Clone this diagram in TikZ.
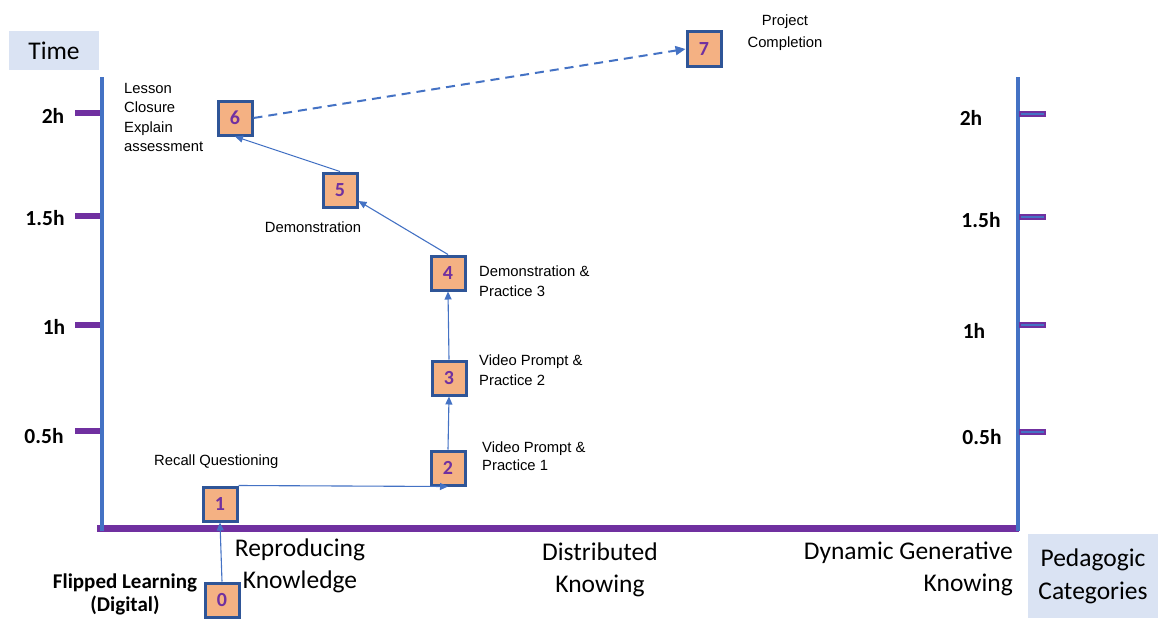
\documentclass[tikz,border=0pt]{standalone}
\usepackage{fontspec}
\setmainfont{Liberation Sans}
\newfontfamily\calib{Carlito}
\usetikzlibrary{arrows.meta}

\definecolor{axisblue}{HTML}{4472C4}
\definecolor{axispurple}{HTML}{7030A0}
\definecolor{boxedge}{HTML}{2F5597}
\definecolor{boxfill}{HTML}{F4B183}
\definecolor{tagfill}{HTML}{DAE3F3}

\tikzset{
  stage/.style={draw=boxedge, line width=3pt, fill=boxfill, minimum size=34pt,
    inner sep=0pt, font=\calib\bfseries\fontsize{20}{20}\selectfont, text=axispurple},
  link/.style={draw=axisblue, line width=1.1pt, -{Triangle[length=8pt,width=7pt]}},
  plink/.style={draw=axisblue, line width=2pt, dash pattern=on 9pt off 6pt,
    -{Triangle[length=10pt,width=9pt]}},
  note/.style={font=\fontsize{14.8}{20}\selectfont, inner sep=0pt},
  hour/.style={font=\calib\bfseries\fontsize{21.5}{21.5}\selectfont, inner sep=0pt},
  category/.style={font=\calib\fontsize{25.5}{32}\selectfont, inner sep=0pt},
  tag/.style={fill=tagfill, font=\calib\fontsize{25.5}{33}\selectfont, inner sep=0pt},
  vaxis/.style={draw=axisblue, line width=4pt},
  haxis/.style={draw=axispurple, line width=7pt},
  ltick/.style={draw=axispurple, line width=5.5pt},
  rtick/.style={draw=axispurple, line width=6.5pt},
}

\begin{document}
\begin{tikzpicture}[x=1pt,y=-1pt]
\useasboundingbox (0,0) rectangle (1158,618);

% axes
\draw[haxis] (97,528) -- (1019,528);
\draw[vaxis] (102,77) -- (102,531);
\draw[vaxis] (1018,77) -- (1018,531);

% left time ticks
\foreach \yy in {113,216,325,431}
  \draw[ltick] (75,\yy) -- (100,\yy);
% right time ticks
\foreach \yy in {114,217,325,432}{
  \draw[rtick] (1019,\yy) -- (1046,\yy);
  \draw[axisblue, line width=1.2pt] (1021,\yy) -- (1044,\yy);
}

% hour labels
\node[hour] (l2)  at (53,116) {2h};
\node[hour] (l15) at (45,218) {1.5h};
\node[hour] (l1)  at (54,327) {1h};
\node[hour] (l05) at (44,436) {0.5h};
\node[hour] (r2)  at (971,118) {2h};
\node[hour] (r15) at (981,220) {1.5h};
\node[hour] (r1)  at (974,331) {1h};
\node[hour] (r05) at (982,437) {0.5h};

% boxed tags
\node[tag, minimum width=90pt, minimum height=39pt] (time) at (54,50.5) {Time};
\node[tag, minimum width=131pt, minimum height=84pt, align=center] (ped) at (1093,576) {Pedagogic\\Categories};

% stages
\node[stage] (n0) at (222,600) {0};
\node[stage] (n1) at (220,504) {1};
\node[stage] (n2) at (448,468) {2};
\node[stage] (n3) at (449,378) {3};
\node[stage] (n4) at (448,273) {4};
\node[stage] (n5) at (340,190) {5};
\node[stage] (n6) at (235,118) {6};
\node[stage] (n7) at (704,49) {7};

% connectors
\draw[link] (n0.north) -- (n1.south);
\draw[link] (n1.north east) -- (n2.south);
\draw[link] (n2.north) -- (n3.south);
\draw[link] (n3.north) -- (n4.south);
\draw[link] (n4.north) -- (n5);
\draw[link] (n5.north) -- (n6.south);
\draw[plink] (n6.east) -- (n7.west);

% stage notes
\node[note, align=center, font=\fontsize{14.8}{22}\selectfont] (t7) at (785,33) {Project\\Completion};
\node[note, align=left, anchor=north west, font=\fontsize{14.8}{19.5}\selectfont] (t6) at (124,83) {Lesson\\Closure\\Explain\\assessment};
\node[note] (t5) at (313,227) {Demonstration};
\node[note, align=left, anchor=west] (t4) at (479,281) {Demonstration \&\\Practice 3};
\node[note, align=left, anchor=west] (t3) at (479,370) {Video Prompt \&\\Practice 2};
\node[note, align=left, anchor=west, font=\fontsize{14.8}{18.5}\selectfont] (t2) at (482,456) {Video Prompt \&\\Practice 1};
\node[note, anchor=west] (t1) at (154,462) {Recall Questioning};

% category labels
\node[category, align=center] (c1) at (300,566) {Reproducing\\Knowledge};
\node[category, align=center] (c2) at (600,570) {Distributed\\Knowing};
\node[category, align=right, anchor=east] (c3) at (1013,569) {Dynamic Generative\\Knowing};
\node[font=\calib\bfseries\fontsize{21}{23}\selectfont, align=center, inner sep=0pt] (fl) at (125,594) {Flipped Learning\\(Digital)};
\end{tikzpicture}
\end{document}
